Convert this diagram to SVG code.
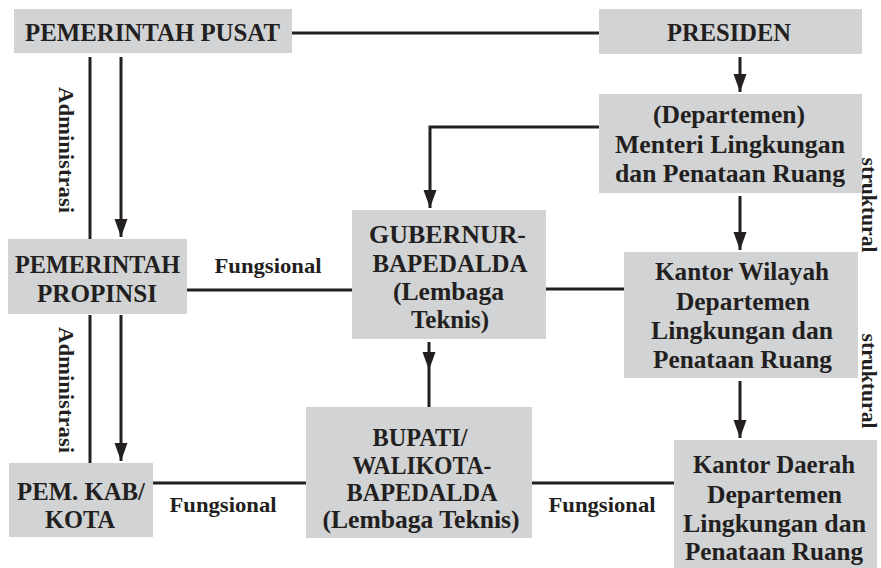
<svg xmlns="http://www.w3.org/2000/svg" width="881" height="568" viewBox="0 0 881 568">
<style>
.box{fill:#d1d3d4;stroke:none}
.t{font-family:"Liberation Serif","Times New Roman",serif;font-weight:bold;font-size:25px;fill:#231f20;text-anchor:middle}
.lbl{font-family:"Liberation Serif","Times New Roman",serif;font-weight:bold;font-size:22px;fill:#231f20;text-anchor:middle}
.c{stroke:#231f20;stroke-width:3;fill:none}
</style>
<defs>
<marker id="ah" markerUnits="userSpaceOnUse" markerWidth="18" markerHeight="14" refX="18" refY="7" orient="auto">
<path d="M0,0.5 L18,7 L0,13.5 z" fill="#231f20"/>
</marker>
</defs>
<rect width="881" height="568" fill="#ffffff"/>
<g id="connectors">
<line class="c" x1="292" y1="33" x2="599" y2="33"/>
<line class="c" x1="90" y1="57" x2="90" y2="239"/>
<line class="c" x1="121" y1="57" x2="121" y2="237" marker-end="url(#ah)"/>
<line class="c" x1="740" y1="57" x2="740" y2="92" marker-end="url(#ah)"/>
<path class="c" d="M599,127 H430 V208" marker-end="url(#ah)"/>
<line class="c" x1="740" y1="196" x2="740" y2="250" marker-end="url(#ah)"/>
<line class="c" x1="187" y1="290" x2="352" y2="290"/>
<line class="c" x1="546" y1="289" x2="624" y2="289"/>
<path class="c" d="M429,342 L429,370 L429,407" marker-mid="url(#ah)"/>
<line class="c" x1="740" y1="381" x2="740" y2="438" marker-end="url(#ah)"/>
<line class="c" x1="90" y1="315" x2="90" y2="463"/>
<line class="c" x1="121" y1="315" x2="121" y2="461" marker-end="url(#ah)"/>
<line class="c" x1="153" y1="483" x2="306" y2="483"/>
<line class="c" x1="532" y1="483" x2="674" y2="483"/>
<text class="lbl" x="268" y="273" textLength="107" lengthAdjust="spacingAndGlyphs">Fungsional</text>
<text class="lbl" x="223" y="512" textLength="107" lengthAdjust="spacingAndGlyphs">Fungsional</text>
<text class="lbl" x="602" y="512" textLength="107" lengthAdjust="spacingAndGlyphs">Fungsional</text>
<text class="lbl" transform="translate(59,150) rotate(90)" textLength="126" lengthAdjust="spacingAndGlyphs">Administrasi</text>
<text class="lbl" transform="translate(59,390) rotate(90)" textLength="126" lengthAdjust="spacingAndGlyphs">Administrasi</text>
<text class="lbl" style="font-size:21px" transform="translate(862,205) rotate(90)" textLength="95" lengthAdjust="spacingAndGlyphs">struktural</text>
<text class="lbl" style="font-size:21px" transform="translate(862,381) rotate(90)" textLength="95" lengthAdjust="spacingAndGlyphs">struktural</text>
</g>
<g id="pusat">
<rect class="box" x="14" y="9" width="278" height="44"/>
<text class="t" x="152.5" y="41" textLength="255" lengthAdjust="spacingAndGlyphs">PEMERINTAH PUSAT</text>
</g>
<g id="presiden">
<rect class="box" x="599" y="9" width="263" height="45"/>
<text class="t" x="729" y="41" textLength="124" lengthAdjust="spacingAndGlyphs">PRESIDEN</text>
</g>
<g id="menteri">
<rect class="box" x="599" y="94" width="263" height="99"/>
<text class="t" x="729" y="123" textLength="152" lengthAdjust="spacingAndGlyphs">(Departemen)</text>
<text class="t" x="730" y="153" textLength="230" lengthAdjust="spacingAndGlyphs">Menteri Lingkungan</text>
<text class="t" x="730" y="182" textLength="230" lengthAdjust="spacingAndGlyphs">dan Penataan Ruang</text>
</g>
<g id="gubernur">
<rect class="box" x="352" y="210" width="194" height="129"/>
<text class="t" x="447.5" y="243" textLength="157" lengthAdjust="spacingAndGlyphs">GUBERNUR-</text>
<text class="t" x="450" y="272" textLength="155" lengthAdjust="spacingAndGlyphs">BAPEDALDA</text>
<text class="t" x="448.5" y="300" textLength="111" lengthAdjust="spacingAndGlyphs">(Lembaga</text>
<text class="t" x="450" y="328" textLength="78" lengthAdjust="spacingAndGlyphs">Teknis)</text>
</g>
<g id="kanwil">
<rect class="box" x="624" y="252" width="234" height="126"/>
<text class="t" x="742" y="280" textLength="174" lengthAdjust="spacingAndGlyphs">Kantor Wilayah</text>
<text class="t" x="743" y="310" textLength="134" lengthAdjust="spacingAndGlyphs">Departemen</text>
<text class="t" x="742" y="339" textLength="182" lengthAdjust="spacingAndGlyphs">Lingkungan dan</text>
<text class="t" x="742.5" y="368" textLength="179" lengthAdjust="spacingAndGlyphs">Penataan Ruang</text>
</g>
<g id="kandaerah">
<rect class="box" x="674" y="440" width="203" height="128"/>
<text class="t" x="774" y="473" textLength="162" lengthAdjust="spacingAndGlyphs">Kantor Daerah</text>
<text class="t" x="774.5" y="503" textLength="135" lengthAdjust="spacingAndGlyphs">Departemen</text>
<text class="t" x="774.5" y="532" textLength="183" lengthAdjust="spacingAndGlyphs">Lingkungan dan</text>
<text class="t" x="774" y="560" textLength="178" lengthAdjust="spacingAndGlyphs">Penataan Ruang</text>
</g>
<g id="propinsi">
<rect class="box" x="8" y="239" width="179" height="75"/>
<text class="t" x="97.5" y="273" textLength="165" lengthAdjust="spacingAndGlyphs">PEMERINTAH</text>
<text class="t" x="97" y="302" textLength="120" lengthAdjust="spacingAndGlyphs">PROPINSI</text>
</g>
<g id="kab">
<rect class="box" x="9" y="463" width="144" height="74"/>
<text class="t" x="81" y="500" textLength="128" lengthAdjust="spacingAndGlyphs">PEM. KAB/</text>
<text class="t" x="80" y="528" textLength="70" lengthAdjust="spacingAndGlyphs">KOTA</text>
</g>
<g id="bupati">
<rect class="box" x="306" y="407" width="226" height="131"/>
<text class="t" x="420" y="446" textLength="95" lengthAdjust="spacingAndGlyphs">BUPATI/</text>
<text class="t" x="422" y="474" textLength="139" lengthAdjust="spacingAndGlyphs">WALIKOTA-</text>
<text class="t" x="422" y="501" textLength="151" lengthAdjust="spacingAndGlyphs">BAPEDALDA</text>
<text class="t" x="421" y="528" textLength="197" lengthAdjust="spacingAndGlyphs">(Lembaga Teknis)</text>
</g>
</svg>
